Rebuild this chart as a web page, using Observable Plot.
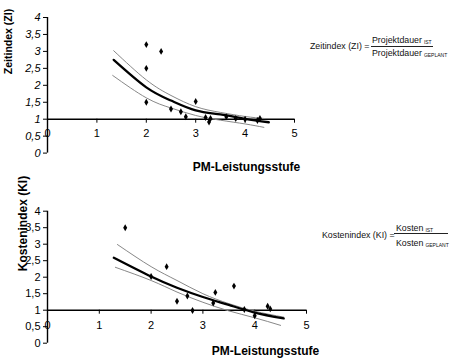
<!DOCTYPE html>
<html>
<head>
<meta charset="utf-8">
<script src="https://cdn.jsdelivr.net/npm/d3@7"></script>
<script src="https://cdn.jsdelivr.net/npm/@observablehq/plot@0.6"></script>
<style>
  html, body { margin: 0; padding: 0; background: #fff; }
  body { width: 450px; height: 361px; position: relative; overflow: hidden; font-family: "Liberation Sans", Arial, sans-serif; }
  .panel { position: absolute; left: 0; }
  .f { position: absolute; font-size: 8.8px; line-height: 12px; color: #111; white-space: nowrap; }
  .sub { font-size: 5px; vertical-align: -1px; margin-left: 2px; }
  .bar { position: absolute; height: 0; border-top: 1px solid #222; }
</style>
</head>
<body>
<div id="top" class="panel" style="top:0px"></div>
<div id="bottom" class="panel" style="top:185px"></div>

<div class="f" style="left:310px;top:39.7px">Zeitindex (ZI) =</div>
<div class="f" style="left:372px;top:33.5px">Projektdauer<span class="sub">IST</span></div>
<div class="bar" style="left:371px;top:46px;width:62px"></div>
<div class="f" style="left:372px;top:47px">Projektdauer<span class="sub">GEPLANT</span></div>

<div class="f" style="left:322px;top:229px">Kostenindex (KI) =</div>
<div class="f" style="left:396px;top:222px">Kosten<span class="sub">IST</span></div>
<div class="bar" style="left:394px;top:232.5px;width:54px"></div>
<div class="f" style="left:396px;top:236.5px">Kosten<span class="sub">GEPLANT</span></div>

<script>
// ---- shared tick values ----
const xTicks = [0, 1, 2, 3, 4, 5];
const yTicks = [0, 0.5, 1, 1.5, 2, 2.5, 3, 3.5, 4];
const xTitle = "PM-Leistungsstufe";

// ---- Zeitindex (ZI) panel ----
const ziTitle = "Zeitindex (ZI)";
const ziX = [2, 2.3, 2, 2, 2.5, 2.7, 2.8, 3.0, 3.2, 3.3, 3.27, 3.62, 3.81, 4.0, 4.25, 4.3];
const ziY = [3.2, 3.0, 2.5, 1.5, 1.3, 1.22, 1.07, 1.52, 1.05, 1.02, 0.92, 1.07, 1.02, 1.0, 0.96, 1.02];
const ziFitX = [1.34, 2, 2.5, 3, 3.5, 4, 4.48];
const ziFitY = [2.75, 1.94, 1.55, 1.26, 1.14, 1.01, 0.91];
const ziUpX = [1.34, 2, 2.5, 3, 3.5, 4, 4.4];
const ziUpY = [3.02, 2.16, 1.7, 1.37, 1.2, 1.08, 1.02];
const ziLoX = [1.32, 2, 2.5, 3, 3.5, 4, 4.38];
const ziLoY = [2.29, 1.63, 1.33, 1.11, 0.97, 0.86, 0.76];

// ---- Kostenindex (KI) panel ----
const kiTitle = "Kostenindex (KI)";
const kiX = [1.5, 2.0, 2.3, 2.5, 2.7, 2.8, 3.2, 3.24, 3.6, 3.8, 4.0, 4.25, 4.3];
const kiY = [3.5, 2.02, 2.32, 1.27, 1.43, 0.99, 1.22, 1.54, 1.73, 1.02, 0.83, 1.12, 1.04];
const kiFitX = [1.28, 2, 2.5, 3, 3.5, 4, 4.56];
const kiFitY = [2.59, 2.02, 1.68, 1.4, 1.16, 0.93, 0.75];
const kiUpX = [1.35, 2, 2.5, 3, 3.5, 4, 4.56];
const kiUpY = [2.99, 2.32, 1.9, 1.5, 1.2, 0.97, 0.79];
const kiLoX = [1.31, 2, 2.5, 3, 3.5, 4, 4.5];
const kiLoY = [2.3, 1.9, 1.55, 1.24, 0.98, 0.77, 0.54];

const zip = (xs, ys) => xs.map((x, i) => ({x, y: ys[i]}));
const fmt = d => String(d).replace(".", ",");

function panel(o) {
  return Plot.plot({
    width: o.width, height: o.height,
    marginLeft: 47, marginRight: o.marginRight, marginTop: o.marginTop, marginBottom: o.marginBottom,
    style: {fontFamily: "'Liberation Sans', Arial, sans-serif", fontSize: "11px", color: "#000", background: "#fff", overflow: "visible"},
    x: {domain: [0, 5], axis: null},
    y: {domain: [0, 4], axis: null},
    marks: [
      Plot.axisY(yTicks, {label: null, tickSize: 4, tickPadding: 3, tickFormat: fmt, fontStyle: o.italic ? "italic" : "normal", fontSize: 11}),
      Plot.ruleX([0], {y1: 0, y2: 4, stroke: "#000", strokeWidth: 1.4}),
      Plot.ruleY([1], {x1: 0, x2: 5, stroke: "#000", strokeWidth: 1.4}),
      Plot.ruleX(xTicks, {x: d => d, y1: () => 1, y2: () => 1, insetBottom: -4, stroke: "#000"}),
      Plot.text(xTicks, {x: d => d, y: () => 1, dy: o.labelDy, text: d => String(d), fontSize: 11}),
      Plot.line(zip(o.upX, o.upY), {x: "x", y: "y", curve: "natural", stroke: "#888", strokeWidth: 1}),
      Plot.line(zip(o.loX, o.loY), {x: "x", y: "y", curve: "natural", stroke: "#888", strokeWidth: 1}),
      Plot.line(zip(o.fitX, o.fitY), {x: "x", y: "y", curve: "natural", stroke: "#000", strokeWidth: 2.3}),
      Plot.dot(zip(o.px, o.py), {x: "x", y: "y", symbol: "diamond", r: 2.1, fill: "#000", stroke: "none"}),
      Plot.text([o.yTitle], {frameAnchor: "top-left", dx: o.ytDx, dy: o.ytDy, rotate: -90, textAnchor: "middle", lineAnchor: "middle", fontWeight: "bold", fontSize: o.ytSize, text: d => d}),
      Plot.text([xTitle], {frameAnchor: "bottom-left", dx: o.xtDx, dy: o.xtDy, textAnchor: "middle", lineAnchor: "middle", fontWeight: "bold", fontSize: 12, text: d => d})
    ]
  });
}

document.getElementById("top").append(panel({
  width: 310, height: 180, marginRight: 16, marginTop: 17, marginBottom: 27.4,
  italic: true, labelDy: 14,
  px: ziX, py: ziY, fitX: ziFitX, fitY: ziFitY, upX: ziUpX, upY: ziUpY, loX: ziLoX, loY: ziLoY,
  yTitle: ziTitle, ytDx: -39, ytDy: 24, ytSize: 10.5,
  xtDx: 199, xtDy: 14.4
}));

document.getElementById("bottom").append(panel({
  width: 320, height: 176, marginRight: 14, marginTop: 25.7, marginBottom: 18.3,
  italic: false, labelDy: 15,
  px: kiX, py: kiY, fitX: kiFitX, fitY: kiFitY, upX: kiUpX, upY: kiUpY, loX: kiLoX, loY: kiLoY,
  yTitle: kiTitle, ytDx: -24, ytDy: 12.3, ytSize: 12,
  xtDx: 218, xtDy: 8
}));
</script>
</body>
</html>
